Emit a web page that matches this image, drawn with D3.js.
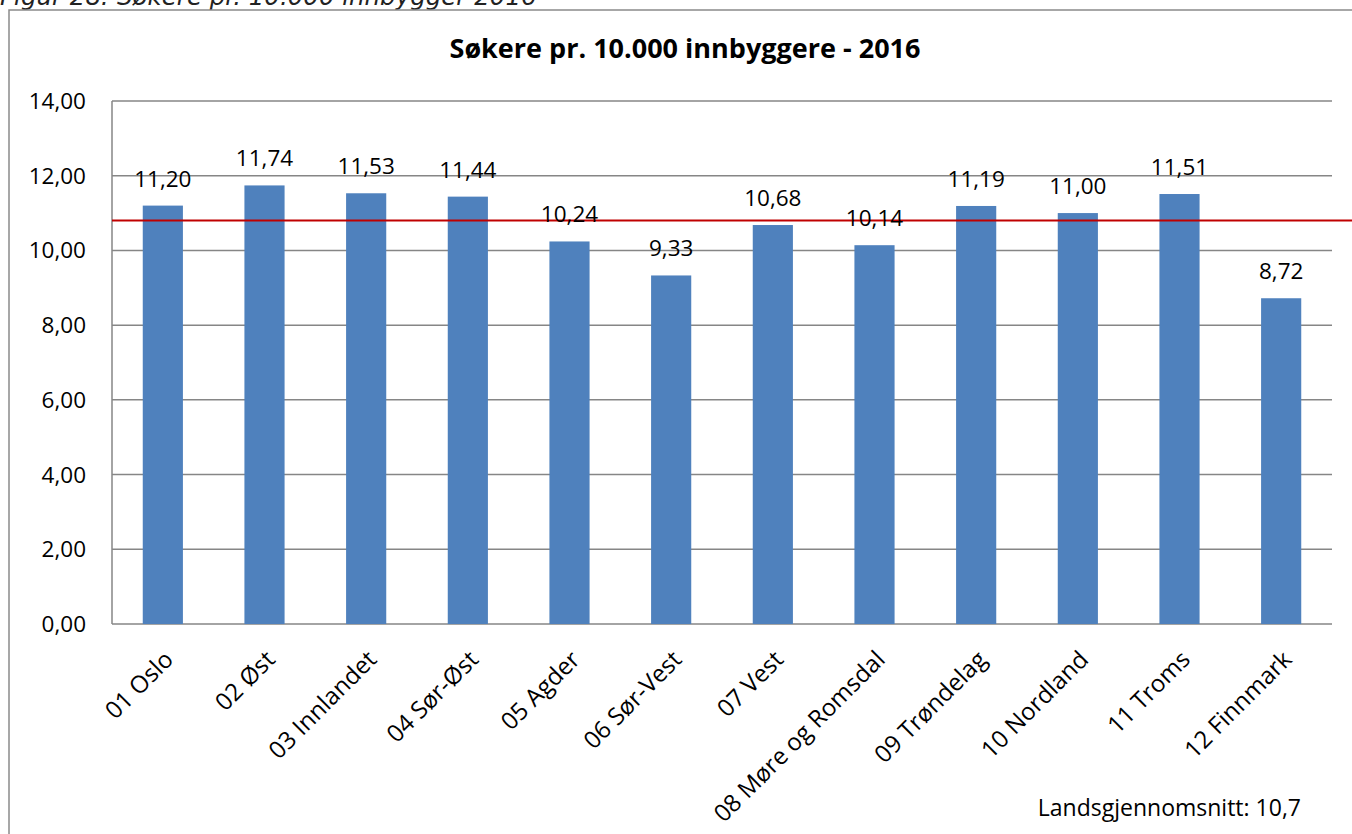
<!DOCTYPE html>
<html>
<head>
<meta charset="utf-8">
<script src="https://cdn.jsdelivr.net/npm/d3@7"></script>
<style>
  html, body { margin: 0; padding: 0; background: #fff; }
  svg { display: block; }
  text { font-family: "Open Sans", sans-serif; fill: #000; }
</style>
</head>
<body>
<svg id="chart" width="1352" height="834"></svg>
<script>
const categories = ["01 Oslo", "02 Øst", "03 Innlandet", "04 Sør-Øst", "05 Agder", "06 Sør-Vest",
  "07 Vest", "08 Møre og Romsdal", "09 Trøndelag", "10 Nordland", "11 Troms", "12 Finnmark"];
const values = [11.20, 11.74, 11.53, 11.44, 10.24, 9.33, 10.68, 10.14, 11.19, 11.00, 11.51, 8.72];
const averageLine = 10.8;
const yTicks = [0, 2, 4, 6, 8, 10, 12, 14];
const titleText = "Søkere pr. 10.000 innbyggere - 2016";
const captionText = "Figur 28: Søkere pr. 10.000 innbygger 2016";
const averageText = "Landsgjennomsnitt: 10,7";

const fmt = v => v.toFixed(2).replace(".", ",");
const svg = d3.select("#chart");

const plot = { left: 112, right: 1332, top: 101, bottom: 624 };
const x = d3.scaleBand().domain(categories).range([plot.left, plot.right]).paddingInner(0.605).paddingOuter(0.3025);
const y = d3.scaleLinear().domain([0, 14]).range([plot.bottom, plot.top]);

// caption (cut at top, as in the reference)
svg.append("text").attr("x", 0).attr("y", 5)
  .style("font-family", "'DejaVu Sans', sans-serif").style("font-style", "italic")
  .style("font-size", "24.5px").style("fill", "#222").text(captionText);

// outer frame
svg.append("rect").attr("x", 9).attr("y", 10).attr("width", 1400).attr("height", 900)
  .attr("fill", "none").attr("stroke", "#8a8a8a").attr("stroke-width", 1.5);

// title
svg.append("text").attr("x", 685).attr("y", 58).attr("text-anchor", "middle")
  .attr("textLength", 471).attr("lengthAdjust", "spacingAndGlyphs")
  .style("font-weight", "bold").style("font-size", "27px").text(titleText);

// gridlines
svg.append("g").selectAll("line").data(yTicks).join("line")
  .attr("x1", plot.left).attr("x2", plot.right)
  .attr("y1", d => y(d)).attr("y2", d => y(d))
  .attr("stroke", "#868686").attr("stroke-width", 1.5);

// y axis line
svg.append("line").attr("x1", plot.left).attr("x2", plot.left)
  .attr("y1", plot.top).attr("y2", plot.bottom)
  .attr("stroke", "#868686").attr("stroke-width", 1.5);

// y tick labels
svg.append("g").selectAll("text").data(yTicks).join("text")
  .attr("x", 86).attr("y", d => y(d)).attr("dy", "0.357em")
  .attr("text-anchor", "end").style("font-size", "22.5px").text(d => fmt(d));

// bars
svg.append("g").selectAll("rect").data(values).join("rect")
  .attr("x", (d, i) => x(categories[i]))
  .attr("width", x.bandwidth())
  .attr("y", d => y(d))
  .attr("height", d => y(0) - y(d))
  .attr("fill", "#4f81bd");

// average line
svg.append("line").attr("x1", plot.left).attr("x2", 1352)
  .attr("y1", y(averageLine)).attr("y2", y(averageLine))
  .attr("stroke", "#c00000").attr("stroke-width", 2);

// value labels
svg.append("g").selectAll("text").data(values).join("text")
  .attr("x", (d, i) => x(categories[i]) + x.bandwidth() / 2)
  .attr("y", d => y(d) - 19)
  .attr("text-anchor", "middle").style("font-size", "22.5px").text(d => fmt(d));

// x labels
svg.append("g").selectAll("text").data(categories).join("text")
  .attr("text-anchor", "end")
  .attr("transform", d => `translate(${x(d) + x.bandwidth() / 2 + 12},661) rotate(-45)`)
  .style("font-size", "24px").text(d => d);

// average text
svg.append("text").attr("x", 1301).attr("y", 816).attr("text-anchor", "end")
  .style("font-size", "23px").text(averageText);
</script>
</body>
</html>
